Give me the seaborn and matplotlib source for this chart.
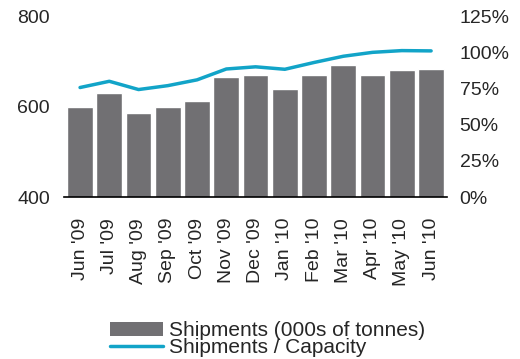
import numpy as np
import pandas as pd
import seaborn as sns
import matplotlib.pyplot as plt
from matplotlib.patches import Patch
from matplotlib.lines import Line2D
from matplotlib.ticker import FuncFormatter

months = ["Jun '09", "Jul '09", "Aug '09", "Sep '09", "Oct '09", "Nov '09", "Dec '09",
          "Jan '10", "Feb '10", "Mar '10", "Apr '10", "May '10", "Jun '10"]
shipments = [600, 631, 587, 600, 613, 666, 671, 640, 671, 693, 671, 680, 684]
utilisation = [75.7, 80.0, 74.3, 77.0, 81.0, 88.5, 90.0, 88.3, 93.0, 97.3, 100.0, 101.2, 101.0]

bar_color = "#717073"
line_color = "#12a4c8"

sns.set_theme(style="white")
plt.rcParams["font.family"] = ["Liberation Sans", "DejaVu Sans"]

df = pd.DataFrame({"month": months, "shipments": shipments, "ratio": utilisation})

fig = plt.figure(figsize=(5.2, 3.59), dpi=100)
ax = fig.add_axes([0.123, 0.451, 0.737, 0.504])

sns.barplot(data=df, x="month", y="shipments", color=bar_color, saturation=1,
            width=0.88, ax=ax)
ax.set_ylim(400, 800)
ax.set_yticks([400, 600, 800])
ax.set_xlim(-0.55, len(months) - 0.45)
ax.set_xlabel("")
ax.set_ylabel("")
ax.tick_params(axis="y", length=0, labelsize=14, pad=10)
ax.tick_params(axis="x", length=0, labelsize=14, rotation=90, pad=15)
for s in ["top", "right", "left"]:
    ax.spines[s].set_visible(False)
ax.spines["bottom"].set_color("black")
ax.spines["bottom"].set_linewidth(1.2)

ax2 = ax.twinx()
sns.lineplot(x=np.arange(len(months)), y=df["ratio"], color=line_color,
             linewidth=2.5, ax=ax2)
ax2.set_ylim(0, 125)
ax2.set_yticks([0, 25, 50, 75, 100, 125])
ax2.yaxis.set_major_formatter(FuncFormatter(lambda v, _: f"{v:.0f}%"))
ax2.set_ylabel("")
ax2.tick_params(axis="y", length=0, labelsize=14, pad=9)
for s in ax2.spines.values():
    s.set_visible(False)

handles = [Patch(facecolor=bar_color, edgecolor="none"),
           Line2D([0], [0], color=line_color, linewidth=2.5)]
fig.legend(handles, ["Shipments (000s of tonnes)", "Shipments / Capacity"],
           loc="center", bbox_to_anchor=(0.514, 0.055), frameon=False,
           fontsize=15, handlelength=2.55, handletextpad=0.3,
           labelspacing=-0.08, borderpad=0)

fig.savefig("out.png", dpi=100)
